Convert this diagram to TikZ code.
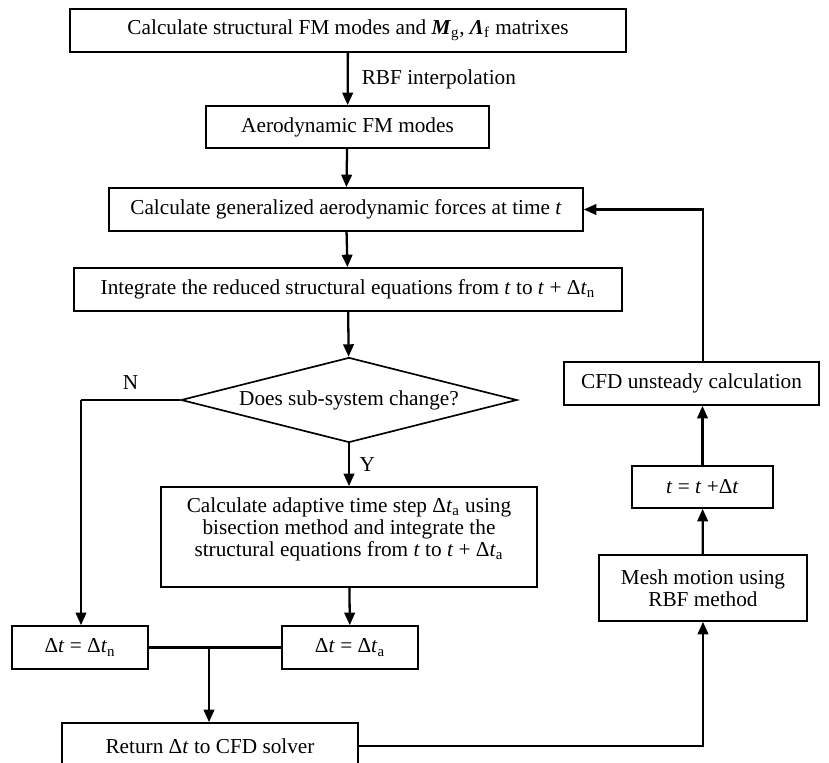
\documentclass[tikz,border=0pt]{standalone}
\usepackage{fontspec}
\setmainfont{Liberation Serif}
\usetikzlibrary{shapes.geometric,arrows.meta,calc}

\begin{document}
\begin{tikzpicture}[%
x=0.02cm, y=-0.02cm,
font=\fontsize{12.1}{12.8}\selectfont,
box/.style={draw, line width=0.95pt, inner sep=0pt, align=center},
decision/.style={draw, shape=diamond, line width=0.95pt, inner sep=0pt, aspect=3.95, minimum width=6.72cm, minimum height=1.7cm},
flow/.style={line width=1.3pt, -{Triangle[length=2.5mm,width=2.1mm]}},
plain/.style={line width=1.3pt},
]
\useasboundingbox (0,0) rectangle (829,763);
%% main column;
\node [box, minimum width=11.12cm, minimum height=0.86cm] (modes) at (348,30.5) {Calculate structural FM modes and \textbf{\textit{M}}\textsubscript{g}, \textbf{\textit{Λ}}\textsubscript{f} matrixes};
\node [box, minimum width=5.66cm, minimum height=0.84cm] (aero) at (347.5,127) {Aerodynamic FM modes};
\node [box, minimum width=9.48cm, minimum height=0.86cm] (forces) at (346,209.5) {Calculate generalized aerodynamic forces at time \textit{t}};
\node [box, minimum width=10.96cm, minimum height=0.86cm] (integ) at (348,289.5) {Integrate the reduced structural equations from \textit{t} to \textit{t} + Δ\textit{t}\textsubscript{n}};
\node [decision] (change) at (349,400) {Does sub-system change?};
\node [box, minimum width=7.52cm, minimum height=2cm, font=\fontsize{12.1}{12.7}\selectfont] (adapt) at (349,537) {\raisebox{4pt}[\height][\depth]{\begin{tabular}{@{}c@{}}Calculate adaptive time step Δ\textit{t}\textsubscript{a} using\\ bisection method and integrate the\\ structural equations from \textit{t} to \textit{t} + Δ\textit{t}\textsubscript{a}\end{tabular}}};
%% time steps;
\node [box, minimum width=2.72cm, minimum height=0.86cm] (dtn) at (80,647.5) {Δ\textit{t} = Δ\textit{t}\textsubscript{n}};
\node [box, minimum width=2.72cm, minimum height=0.86cm] (dta) at (350,647.5) {Δ\textit{t} = Δ\textit{t}\textsubscript{a}};
\node [box, minimum width=5.92cm, minimum height=0.92cm] (ret) at (210,746) {Return Δ\textit{t} to CFD solver};
%% right column;
\node [box, minimum width=4.16cm, minimum height=1.32cm] (mesh) at (703,588) {Mesh motion using\\ RBF method};
\node [box, minimum width=2.82cm, minimum height=0.84cm] (step) at (702.5,487) {\textit{t} = \textit{t} +Δ\textit{t}};
\node [box, minimum width=5.1cm, minimum height=0.86cm] (cfd) at (691.5,383.5) {CFD unsteady calculation};
\coordinate (nturn) at (81,400);
\coordinate (join) at (209,648);
%% connectors;
\draw [flow] (modes) -- node[right, xshift=4pt] {RBF interpolation} (aero);
\draw [flow] (aero) -- (forces);
\draw [flow] (forces) -- (integ);
\draw [flow] (integ) -- (change);
\draw [plain] (change.west) -- node[above, yshift=2pt] {N} (nturn);
\draw [flow] (nturn) -- (nturn |- dtn.north);
\draw [flow] (change) -- node[right, xshift=2pt] {Y} (adapt);
\draw [flow] (adapt) -- (dta);
\draw [plain] (dtn.east) -- (dta.west);
\draw [flow] (join) -- (join |- ret.north);
\draw [flow] (ret.east) -| (mesh.south);
\draw [flow] (mesh) -- (step);
\draw [flow] (step) -- (step |- cfd.south);
\draw [flow] (cfd.north -| mesh.north) |- (forces.east);
\end{tikzpicture}
\end{document}
